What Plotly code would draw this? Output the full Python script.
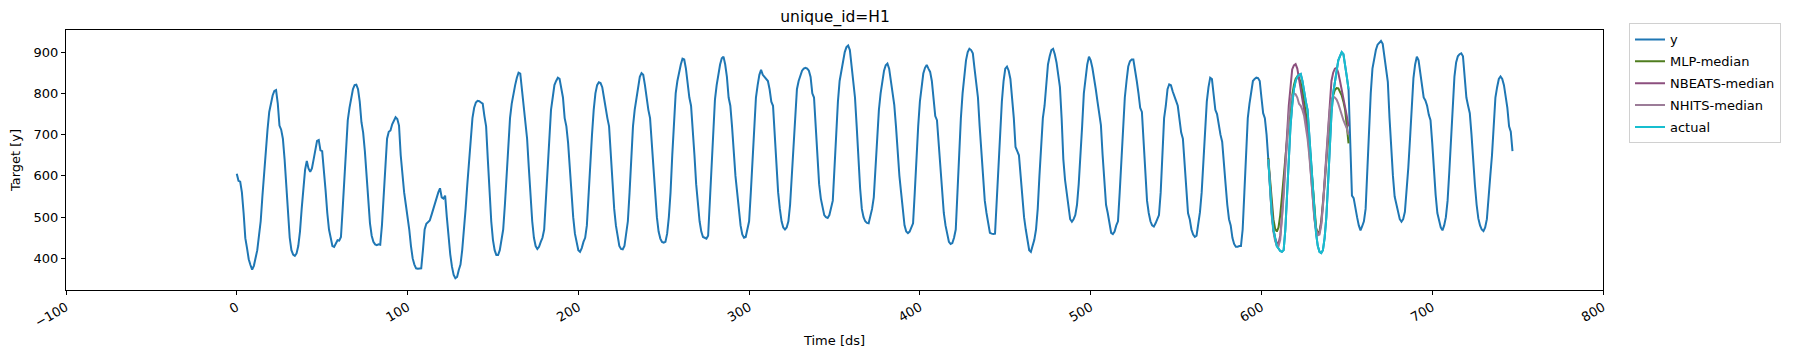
import plotly.graph_objects as go

# ---------------- data ----------------
y_values = [
605, 588, 586, 560, 510, 449, 425, 398, 384, 373, 382, 398, 420, 455, 490, 550, 608, 665, 712, 755, 778, 795, 806, 808,
776, 722, 712, 690, 640, 570, 500, 450, 420, 409, 406, 412, 430, 465, 520, 575, 615, 636, 618, 610, 618, 640, 668, 685,
687, 662, 660, 620, 565, 510, 470, 450, 430, 428, 438, 444, 443, 452, 520, 600, 680, 735, 765, 790, 810, 820, 821, 810,
780, 730, 705, 660, 600, 530, 485, 455, 440, 434, 432, 434, 433, 480, 560, 640, 690, 707, 710, 725, 735, 742, 738, 722,
650, 600, 560, 530, 505, 470, 430, 400, 385, 376, 375, 376, 376, 420, 470, 484, 487, 492, 505, 520, 530, 545, 560, 570,
548, 545, 552, 500, 450, 410, 380, 360, 352, 355, 372, 385, 420, 465, 520, 580, 640, 700, 740, 765, 778, 782, 781, 778,
775, 745, 720, 640, 560, 490, 445, 420, 408, 408, 420, 450, 470, 530, 600, 680, 740, 775, 800, 820, 838, 850, 848, 810,
760, 730, 690, 620, 550, 490, 450, 430, 423, 428, 440, 450, 470, 540, 630, 710, 760, 790, 820, 830, 838, 835, 815, 790,
740, 720, 680, 620, 550, 500, 460, 435, 420, 416, 425, 440, 450, 480, 560, 640, 700, 760, 800, 820, 827, 825, 815, 790,
760, 740, 720, 650, 580, 520, 480, 450, 430, 423, 422, 430, 460, 490, 560, 650, 720, 760, 790, 820, 840, 849, 845, 820,
785, 760, 740, 680, 600, 540, 500, 465, 448, 440, 438, 440, 460, 500, 560, 650, 740, 800, 830, 855, 870, 884, 882, 860,
820, 790, 770, 720, 650, 580, 530, 490, 465, 452, 450, 448, 455, 540, 640, 720, 785, 820, 850, 870, 885, 889, 870, 840,
790, 770, 720, 650, 600, 560, 520, 480, 458, 450, 452, 470, 490, 560, 650, 730, 790, 820, 845, 857, 845, 840, 835, 830,
810, 780, 770, 700, 610, 560, 520, 490, 475, 470, 475, 490, 530, 600, 680, 760, 810, 830, 845, 855, 860, 862, 860, 855,
840, 800, 790, 720, 640, 580, 545, 520, 505, 500, 498, 505, 520, 540, 620, 710, 780, 830, 855, 880, 900, 912, 916, 905,
870, 820, 790, 720, 640, 570, 520, 500, 490, 486, 485, 500, 520, 548, 620, 700, 760, 800, 830, 855, 868, 872, 860, 830,
790, 772, 720, 650, 600, 560, 510, 480, 465, 461, 465, 475, 485, 560, 650, 720, 780, 820, 848, 862, 869, 860, 852, 830,
790, 745, 735, 680, 610, 560, 510, 480, 455, 440, 435, 437, 450, 470, 560, 660, 740, 800, 845, 880, 900, 908, 905, 897,
860, 820, 790, 720, 650, 580, 540, 510, 480, 462, 460, 459, 460, 540, 650, 720, 780, 830, 860, 865, 855, 835, 790, 740,
670, 660, 650, 600, 540, 500, 470, 440, 420, 416, 430, 445, 470, 520, 600, 680, 740, 770, 820, 870, 890, 905, 908, 895,
875, 850, 815, 740, 640, 590, 560, 520, 495, 489, 495, 505, 530, 580, 640, 720, 800, 840, 870, 889, 880, 862, 840, 810,
780, 750, 723, 650, 580, 530, 510, 480, 462, 459, 465, 480, 490, 560, 650, 730, 790, 830, 865, 878, 882, 882, 860, 830,
800, 765, 755, 680, 600, 540, 510, 490, 480, 477, 485, 495, 505, 560, 660, 740, 770, 810, 822, 820, 805, 795, 782, 770,
740, 705, 690, 620, 550, 510, 495, 470, 458, 452, 455, 480, 512, 560, 640, 720, 780, 815, 838, 835, 800, 760, 750, 720,
700, 683, 640, 580, 530, 495, 480, 450, 435, 428, 428, 430, 430, 470, 560, 660, 740, 775, 810, 830, 835, 838, 837, 830,
790, 752, 740, 700, 640, 570, 510, 470, 445, 430, 424, 418, 416, 420, 470, 560, 650, 720, 770, 810, 830, 840, 845, 847,
830, 800, 780, 760, 700, 640, 570, 510, 460, 430, 416, 413, 420, 450, 500, 580, 670, 750, 800, 830, 860, 880, 890, 900,
895, 860, 840, 810, 700, 552, 546, 520, 500, 480, 468, 478, 490, 520, 620, 720, 800, 860, 885, 905, 918, 924, 927, 920,
890, 860, 828, 740, 665, 600, 550, 530, 510, 495, 489, 495, 513, 560, 620, 690, 780, 837, 870, 889, 880, 853, 820, 790,
783, 770, 748, 735, 680, 600, 554, 510, 490, 475, 468, 480, 500, 540, 610, 680, 760, 840, 875, 890, 895, 897, 890, 840,
790, 770, 752, 700, 630, 578, 530, 497, 480, 470, 466, 475, 495, 540, 600, 650, 730, 790, 815, 835, 841, 835, 820, 790,
765, 720, 707, 660,
]
ds = list(range(len(y_values)))

# forecast window
fc_start = 604
fc_ds = list(range(fc_start, fc_start + 48))

mlp_median = [
643, 590, 535, 495, 472, 465, 475, 505, 550, 600, 645, 690, 735, 770, 800, 820, 835, 841, 838, 825, 805, 780, 755, 725,
680, 625, 565, 510, 475, 461, 465, 490, 530, 580, 635, 690, 735, 770, 795, 808, 813, 812, 805, 795, 780, 760, 720, 679,
]
nbeats_median = [
640, 575, 510, 470, 448, 438, 436, 455, 500, 560, 630, 700, 770, 825, 858, 868, 871, 860, 835, 810, 790, 770, 745, 710,
660, 600, 540, 495, 468, 458, 462, 485, 530, 590, 660, 730, 790, 830, 850, 860, 862, 850, 830, 810, 790, 770, 745, 720,
]
nhits_median = [
640, 570, 505, 465, 442, 432, 430, 445, 490, 550, 620, 690, 745, 780, 795, 800, 798, 790, 775, 770, 760, 745, 720, 690,
650, 600, 545, 500, 470, 456, 458, 480, 525, 585, 650, 710, 760, 785, 792, 790, 785, 775, 760, 745, 735, 725, 715, 700,
]
actual = y_values[fc_start:fc_start + 48]

x_ticks = [-100, 0, 100, 200, 300, 400, 500, 600, 700, 800]
y_ticks = [400, 500, 600, 700, 800, 900]

# ---------------- figure ----------------
FONT = "DejaVu Sans"
FS = 13
fig = go.Figure()
series = [
    ("y", ds, y_values, "#1f77b4"),
    ("MLP-median", fc_ds, mlp_median, "#4f7d1f"),
    ("NBEATS-median", fc_ds, nbeats_median, "#8c4f7e"),
    ("NHITS-median", fc_ds, nhits_median, "#9c7c98"),
    ("actual", fc_ds, actual, "#17becf"),
]
for name, xs, ys, col in series:
    fig.add_trace(go.Scatter(x=xs, y=ys, mode="lines", name=name, legendgroup=name,
                             line=dict(color=col, width=2)))

axis_common = dict(showline=True, mirror=True, linecolor="black", linewidth=1,
                   ticks="outside", ticklen=4, tickcolor="black", tickwidth=1,
                   showgrid=False, zeroline=False, automargin=False,
                   tickfont=dict(family=FONT, size=FS, color="#000"))
fig.update_xaxes(range=[-100, 800], tickvals=x_ticks, tickangle=-30,
                 title=dict(text="Time [ds]", font=dict(family=FONT, size=FS, color="#000"), standoff=6),
                 **axis_common)
fig.update_yaxes(range=[323.4, 953.6], tickvals=y_ticks,
                 title=dict(text="Target [y]", font=dict(family=FONT, size=FS, color="#000"), standoff=10),
                 **axis_common)

fig.update_layout(
    width=1800, height=361,
    margin=dict(l=66, r=197, t=30, b=71, autoexpand=False),
    paper_bgcolor="white", plot_bgcolor="white",
    font=dict(family=FONT, size=FS, color="#000"),
    title=dict(text="unique_id=H1", x=0.4639, xanchor="center", y=0.955, yanchor="middle",
               font=dict(family=FONT, size=15.5, color="#000")),
    legend=dict(xref="container", yref="container", x=0.905, y=0.935, xanchor="left", yanchor="top",
                bordercolor="#d0d0d0", borderwidth=1, bgcolor="white",
                font=dict(family=FONT, size=FS, color="#000"), tracegroupgap=2,
                itemwidth=30, entrywidth=118, entrywidthmode="pixels"),
    showlegend=True,
)

# remove the browser's default 8px page margin so the figure sits at (0, 0)
fig.write_html("out.html", config={"displayModeBar": False},
               post_script="document.body.style.margin='0';document.body.style.overflow='hidden';")
